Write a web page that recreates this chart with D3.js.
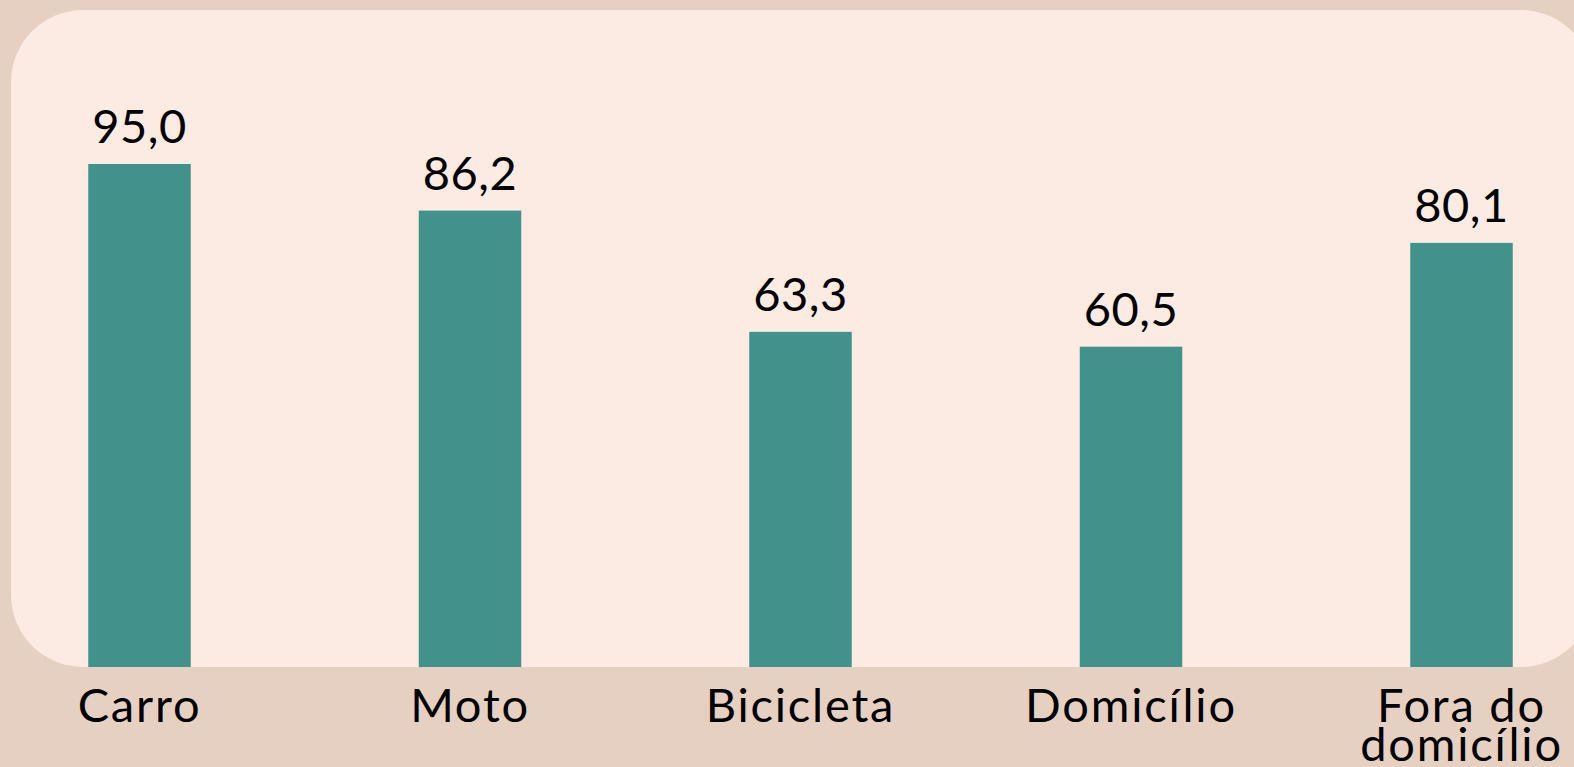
<!DOCTYPE html>
<html>
<head>
<meta charset="utf-8">
<script src="https://cdn.jsdelivr.net/npm/d3@7"></script>
<style>
  html, body { margin: 0; padding: 0; background: #e5d0c2; overflow: hidden; }
  svg { display: block; }
</style>
</head>
<body>
<div id="chart"></div>
<script>
// Chart data
const categories = ['Carro', 'Moto', 'Bicicleta', 'Domicílio', 'Fora do domicílio'];
const values = [95.0, 86.2, 63.3, 60.5, 80.1];
const labelLines = [['Carro'], ['Moto'], ['Bicicleta'], ['Domicílio'], ['Fora do', 'domicílio']];

const width = 1574;
const height = 767;
const baseY = 667;

const svg = d3.select('#chart').append('svg')
    .attr('width', width)
    .attr('height', height);

// Outer and inner panels
svg.append('rect')
    .attr('width', width)
    .attr('height', height)
    .attr('fill', '#e5d0c2');

svg.append('rect')
    .attr('x', 11)
    .attr('y', 10)
    .attr('width', 1582)
    .attr('height', baseY - 10)
    .attr('rx', 72)
    .attr('fill', '#fcebe3');

// Scales
const x = d3.scalePoint()
    .domain(categories)
    .range([139.5, 1461.5]);

const y = d3.scaleLinear()
    .domain([0, 95])
    .range([baseY, 164]);

const barWidth = 102.5;
const data = categories.map((c, i) => ({ cat: c, value: values[i], lines: labelLines[i] }));

// Bars
svg.selectAll('.bar')
    .data(data)
    .enter()
    .append('rect')
    .attr('class', 'bar')
    .attr('x', d => x(d.cat) - barWidth / 2)
    .attr('y', d => y(d.value))
    .attr('width', barWidth)
    .attr('height', d => baseY - y(d.value))
    .attr('fill', '#42918b');

// Value labels
svg.selectAll('.value-label')
    .data(data)
    .enter()
    .append('text')
    .attr('class', 'value-label')
    .attr('x', d => x(d.cat))
    .attr('y', d => y(d.value) - 21)
    .attr('text-anchor', 'middle')
    .style('font-family', 'Lato, sans-serif')
    .style('font-size', '47px')
    .style('letter-spacing', '0.5px')
    .style('fill', '#000')
    .text(d => d.value.toFixed(1).replace('.', ','));

// Category labels (last one wraps on two lines)
const catLabels = svg.selectAll('.cat-label')
    .data(data)
    .enter()
    .append('text')
    .attr('class', 'cat-label')
    .attr('text-anchor', 'middle')
    .style('font-family', 'Lato, sans-serif')
    .style('font-size', '47px')
    .style('letter-spacing', '1.8px')
    .style('fill', '#000');

catLabels.selectAll('tspan')
    .data(d => d.lines.map(l => ({ line: l, cat: d.cat })))
    .enter()
    .append('tspan')
    .attr('x', d => x(d.cat))
    .attr('y', (d, i) => 722 + i * 39)
    .text(d => d.line);
</script>
</body>
</html>
